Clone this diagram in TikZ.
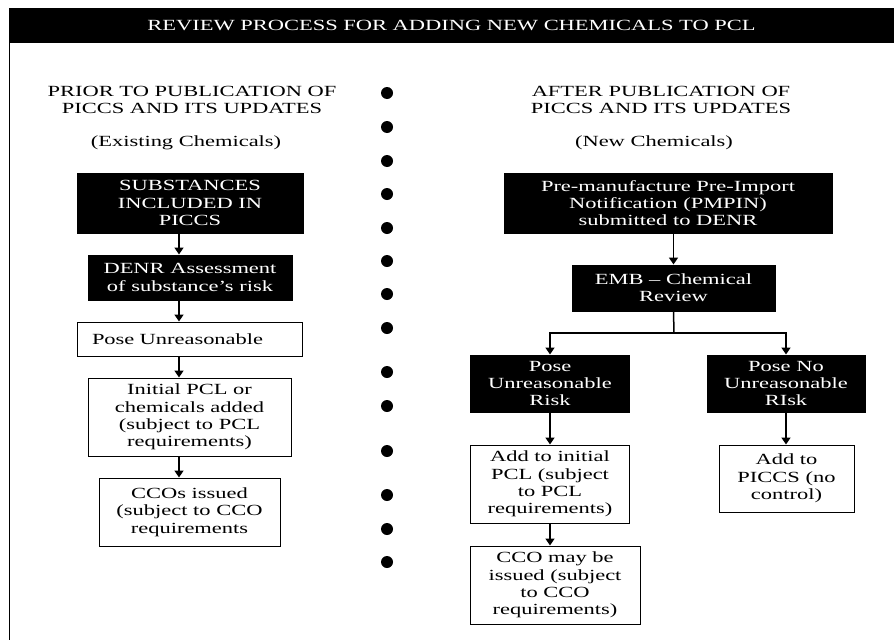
\documentclass[tikz,border=0pt]{standalone}
\usepackage{fontspec}
\setmainfont[FakeStretch=1.45]{Liberation Serif}
\usepackage{tikz}
\usetikzlibrary{arrows.meta}

\begin{document}
\begin{tikzpicture}[x=1pt,y=-1pt,
	every node/.style={font=\fontsize{15.5}{17.3}\selectfont},
	darkbox/.style={draw,fill=black,text=white,align=center,inner sep=2pt,line width=1pt},
	lightbox/.style={draw,fill=white,align=center,inner sep=2pt,line width=1pt},
	arr/.style={-{Triangle[width=9pt,length=7pt]},line width=1.5pt}]
	\useasboundingbox (0,0) rectangle (894,640);
	\node[fill=black,text=white,inner sep=0pt,minimum width=885pt,minimum height=35pt] at (451.5,25.5) (title) {REVIEW PROCESS FOR ADDING NEW CHEMICALS TO PCL};
	\draw[line width=1.5pt] (9.5,43) -- (9.5,640);
	\foreach \y in {93,127,161,194,228,261,294,328,372,406,451,495,529,562}
		\fill (387,\y) circle (6pt);
	\node[align=center] at (192,100) (headL) {PRIOR TO PUBLICATION OF\\PICCS AND ITS UPDATES};
	\node at (186,143) (kindL) {(Existing Chemicals)};
	\node[darkbox,minimum width=226pt,minimum height=60pt] at (190,203) (subst) {SUBSTANCES\\INCLUDED IN\\PICCS};
	\node[darkbox,minimum width=204pt,minimum height=45pt] at (190,277.5) (denr) {DENR Assessment\\of substance's risk};
	\node[lightbox,align=left,text width=195pt,inner xsep=15pt,minimum height=34pt] at (189.5,339) (poseL) {Pose Unreasonable};
	\node[lightbox,minimum width=203pt,minimum height=78pt] at (189.5,417) (initL) {Initial PCL or\\chemicals added\\(subject to PCL\\requirements)};
	\node[lightbox,minimum width=181pt,minimum height=68pt] at (189.5,512) (ccoL) {CCOs issued\\(subject to CCO\\requirements};
	\coordinate (colL) at (179,0);
	\draw[arr] (subst.south -| colL) -- (denr.north -| colL);
	\draw[arr] (denr.south -| colL) -- (poseL.north -| colL);
	\draw[arr] (poseL.south -| colL) -- (initL.north -| colL);
	\draw[arr] (initL.south -| colL) -- (ccoL.north -| colL);
	\node[align=center] at (661,100) (headR) {AFTER PUBLICATION OF\\PICCS AND ITS UPDATES};
	\node at (654,143) (kindR) {(New Chemicals)};
	\node[darkbox,minimum width=328pt,minimum height=60pt] at (668,203) (pmpin) {Pre-manufacture Pre-Import\\Notification (PMPIN)\\submitted to DENR};
	\node[darkbox,minimum width=203pt,minimum height=46pt] at (673.5,288) (emb) {EMB -- Chemical\\Review};
	\node[darkbox,minimum width=159pt,minimum height=57pt] at (550,383.5) (riskY) {Pose\\Unreasonable\\Risk};
	\node[darkbox,minimum width=158pt,minimum height=57pt] at (786,383.5) (riskN) {Pose No\\Unreasonable\\RIsk};
	\node[lightbox,minimum width=159pt,minimum height=78pt] at (550,484) (addPcl) {Add to initial\\PCL (subject\\to PCL\\requirements)};
	\node[lightbox,minimum width=170pt,minimum height=78pt] at (555,585) (ccoR) {CCO may be\\issued (subject\\to CCO\\requirements)};
	\node[lightbox,minimum width=135pt,minimum height=67pt] at (786.5,478.5) (addPiccs) {Add to\\PICCS (no\\control)};
	\coordinate (split) at (674,333);
	\draw[arr] (pmpin.south -| emb.north) -- (emb.north);
	\draw[line width=1.5pt] (emb.south) -- (split);
	\draw[arr] (split) -| (riskY.north);
	\draw[arr] (split) -| (riskN.north);
	\draw[arr] (riskY.south) -- (addPcl.north);
	\draw[arr] (riskN.south) -- (addPiccs.north -| riskN.south);
	\draw[arr] (addPcl.south) -- (addPcl.south |- ccoR.north);
\end{tikzpicture}
\end{document}
